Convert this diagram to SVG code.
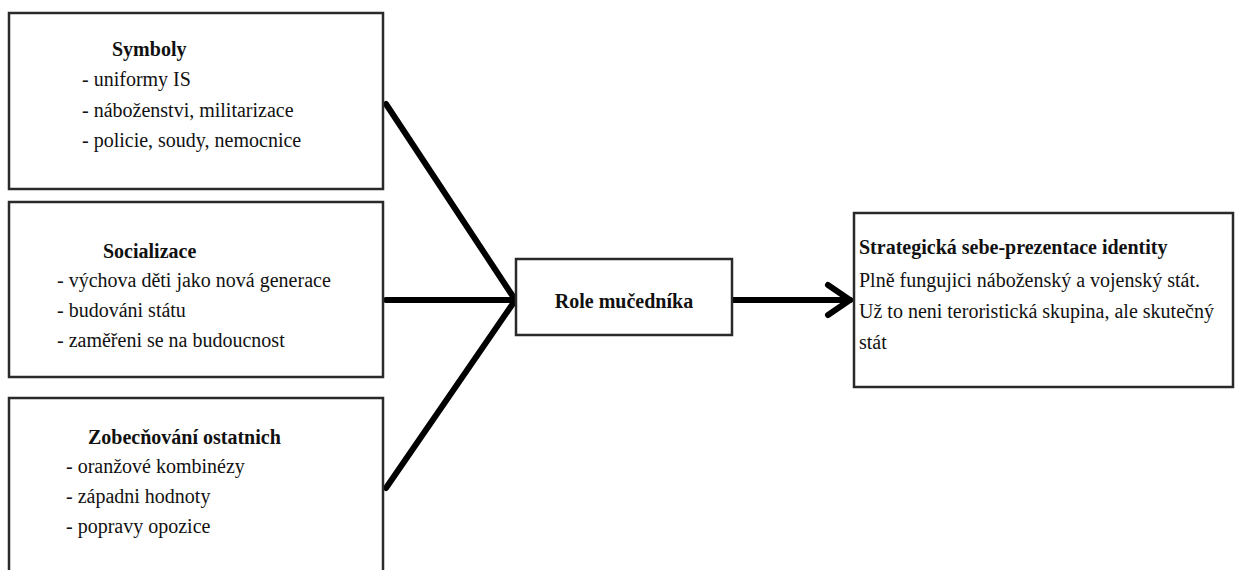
<svg xmlns="http://www.w3.org/2000/svg" width="1235" height="570" viewBox="0 0 1235 570">
  <defs>
    <style>
      .box { fill: #ffffff; stroke: #2a2a2a; stroke-width: 2.5; }
      .t { font-family: "Liberation Serif", "Times New Roman", serif; font-size: 20px; fill: #111111; }
      .b { font-weight: bold; }
      .conn { stroke: #000000; stroke-width: 6; fill: none; stroke-linecap: round; }
    </style>
    <marker id="chev" markerUnits="userSpaceOnUse" markerWidth="40" markerHeight="40" refX="30" refY="20" orient="auto" overflow="visible">
      <path d="M8,5 L30,20 L8,35" fill="none" stroke="#000000" stroke-width="6" stroke-linecap="round" stroke-linejoin="miter"/>
    </marker>
  </defs>
  <rect width="1235" height="570" fill="#ffffff"/>

  <g id="connectors">
    <line class="conn" x1="386" y1="104" x2="514" y2="298"/>
    <line class="conn" x1="386" y1="300" x2="514" y2="300"/>
    <line class="conn" x1="386" y1="488" x2="514" y2="302"/>
    <line class="conn" x1="733" y1="300" x2="850" y2="300" marker-end="url(#chev)"/>
  </g>

  <g id="node-symboly">
    <rect class="box" x="9" y="13" width="374" height="176"/>
    <text class="t b" x="112" y="56">Symboly</text>
    <text class="t" x="82" y="86">- uniformy IS</text>
    <text class="t" x="82" y="117">- náboženstvi, militarizace</text>
    <text class="t" x="82" y="147">- policie, soudy, nemocnice</text>
  </g>

  <g id="node-socializace">
    <rect class="box" x="9" y="202" width="374" height="175"/>
    <text class="t b" x="103" y="258">Socializace</text>
    <text class="t" x="57" y="287">- výchova děti jako nová generace</text>
    <text class="t" x="57" y="317">- budováni státu</text>
    <text class="t" x="57" y="347">- zaměřeni se na budoucnost</text>
  </g>

  <g id="node-zobecnovani">
    <rect class="box" x="9" y="398" width="374" height="185"/>
    <text class="t b" x="88" y="444">Zobecňování ostatnich</text>
    <text class="t" x="66" y="473">- oranžové kombinézy</text>
    <text class="t" x="66" y="503">- západni hodnoty</text>
    <text class="t" x="66" y="533">- popravy opozice</text>
  </g>

  <g id="node-role">
    <rect class="box" x="516" y="259" width="216" height="76"/>
    <text class="t b" x="624" y="308" text-anchor="middle">Role mučedníka</text>
  </g>

  <g id="node-strategie">
    <rect class="box" x="854" y="213" width="379" height="174"/>
    <text class="t b" x="859" y="254">Strategická sebe-prezentace identity</text>
    <text class="t" x="859" y="287">Plně fungujici náboženský a vojenský stát.</text>
    <text class="t" x="859" y="318">Už to neni teroristická skupina, ale skutečný</text>
    <text class="t" x="859" y="349">stát</text>
  </g>
</svg>
